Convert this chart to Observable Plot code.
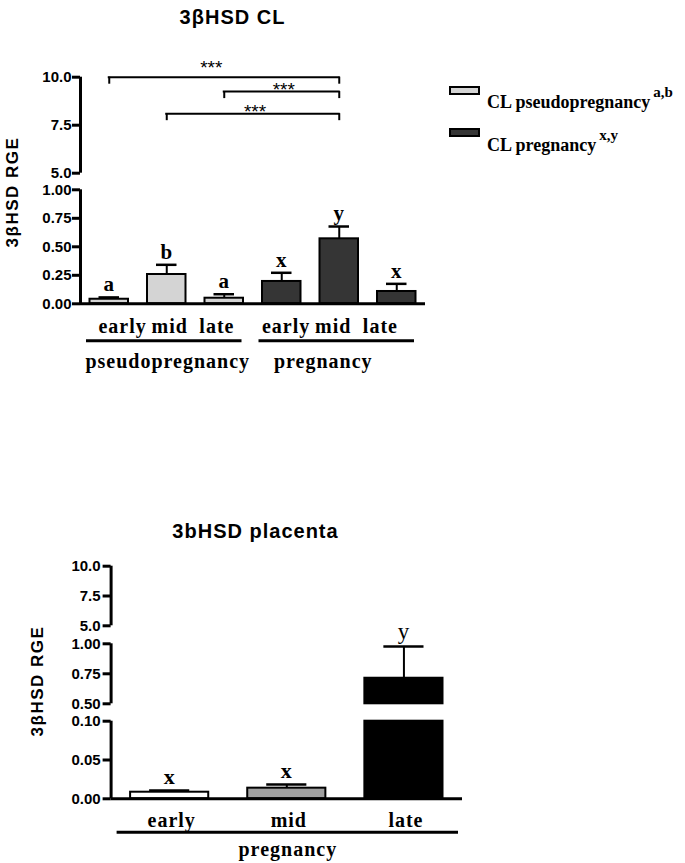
<!DOCTYPE html>
<html><head><meta charset="utf-8">
<script src="https://cdn.jsdelivr.net/npm/d3@7"></script>
<script src="https://cdn.jsdelivr.net/npm/@observablehq/plot@0.6"></script>
<style>
body{margin:0;background:#fff}
#wrap{position:relative;width:685px;height:863px;background:#fff;overflow:hidden}
.abs{position:absolute;white-space:nowrap;line-height:1}
.title{font:bold 20px "Liberation Sans",Arial,sans-serif;letter-spacing:1px;transform:translate(-50%,-50%)}
.ylab{font:bold 17px "Liberation Sans",Arial,sans-serif;letter-spacing:1.5px;transform:translate(-50%,-50%) rotate(-90deg)}
.leg{font:bold 18px "Liberation Serif","Times New Roman",serif;color:#000}
.leg .sup{font-size:15px;position:relative;margin-left:3px}
.sw{border:2px solid #000;width:27px;height:5px}
svg{overflow:visible}
svg g[font-family*="Serif"]{letter-spacing:1px}
</style></head><body><div id="wrap"></div>
<script>
// ---------- data: 3βHSD CL ----------
const clStages = ["early", "mid", "late", "early", "mid", "late"];
const clGroups = ["pseudopregnancy", "pregnancy"];
const clGroupOf = [0, 0, 0, 1, 1, 1];
const clMeans = [0.040, 0.257, 0.049, 0.196, 0.570, 0.108];
const clErrors = [0.016, 0.085, 0.035, 0.076, 0.108, 0.067];
const clLetters = ["a", "b", "a", "x", "y", "x"];
const clTicks = [0, 0.25, 0.5, 0.75, 1, 5, 7.5, 10];
const clSegments = [[0, 1], [5, 10]];
const bracketFrom = [0, 2, 1];
const bracketTo = [4, 4, 4];
const bracketLevel = [10.0, 9.25, 8.1];
const bracketLabel = ["***", "***", "***"];
const legendLabels = ["CL pseudopregnancy", "CL pregnancy"];
const legendSup = ["a,b", "x,y"];

// ---------- data: 3bHSD placenta ----------
const plStages = ["early", "mid", "late"];
const plGroups = ["pregnancy"];
const plMeans = [0.0085, 0.0137, 0.713];
const plErrors = [0.0022, 0.0047, 0.265];
const plLetters = ["x", "x", "y"];
const plTicks = [0, 0.05, 0.1, 0.5, 0.75, 1, 5, 7.5, 10];
const plSegments = [[0, 0.1], [0.5, 1], [5, 10]];

// ---------- styles ----------
const clFills = ["#d4d4d4", "#353535"];
const plFills = ["#ffffff", "#a0a0a0", "#000000"];
const SANS = "Liberation Sans";
const SERIF = "Liberation Serif";
const fmt = d => d >= 5 ? d.toFixed(1) : d.toFixed(2);

const wrap = document.getElementById("wrap");
function place(el, left, topPx) { el.style.position = "absolute"; el.style.left = left + "px"; el.style.top = topPx + "px"; wrap.appendChild(el); }
function div(cls, html, left, topPx) { const d = document.createElement("div"); d.className = "abs " + cls; d.innerHTML = html; place(d, left, topPx); return d; }

function buildRows(stages, groupOf, means, errors, letters, fills) {
  const count = {};
  return stages.map((s, i) => {
    const g = groupOf[i];
    count[g] = (count[g] || 0);
    const j = count[g]++;
    return {i, stage: s, g, j, mean: means[i], err: errors[i], top: means[i] + errors[i], letter: letters[i], fill: fills[i]};
  });
}
function buildPieces(rows, segments) {
  const out = [];
  for (const r of rows) for (const [lo, hi] of segments) if (r.mean > lo) out.push({i: r.i, fill: r.fill, y1: lo, y2: Math.min(r.mean, hi)});
  return out;
}

const clRows = buildRows(clStages, clGroupOf, clMeans, clErrors, clLetters, clGroupOf.map(g => clFills[g]));
const clPieces = buildPieces(clRows, clSegments);
const clGroupRows = clGroups.map((name, g) => ({g, name, n: clGroupOf.filter(x => x === g).length, start: clGroupOf.indexOf(g)}));
const brackets = bracketFrom.map((f, k) => ({k, from: f, to: bracketTo[k], level: bracketLevel[k], label: bracketLabel[k]}));

const plGroupOf = plStages.map(() => 0);
const plRows = buildRows(plStages, plGroupOf, plMeans, plErrors, plLetters, plFills);
const plPieces = buildPieces(plRows, plSegments);
const plGroupRows = plGroups.map((name, g) => ({g, name, n: plStages.length, start: 0}));

const serifText = {fontFamily: SERIF, fontWeight: "bold", fill: "#000"};
const starText = {text: "label", fontSize: 19, fontFamily: SANS, fill: "#000"};

// ---------- top panel ----------
const topPanel = Plot.plot({
  width: 685, height: 380, marginLeft: 80, marginRight: 260, marginTop: 0, marginBottom: 0,
  style: {background: "transparent", overflow: "visible"},
  x: {type: "linear", domain: [0, clStages.length], axis: null},
  y: {type: "linear", domain: [0, 1, 5, 10], range: [303.3, 189.3, 172.7, 76.7]},
  color: {type: "identity"},
  marks: [
    Plot.ruleX(clSegments, {x: () => 0, y1: d => d[0], y2: d => d[1], stroke: "#000", strokeWidth: 3}),
    Plot.axisY({ticks: clTicks, tickFormat: fmt, tickSize: 8, tickPadding: 1, strokeWidth: 3, fontSize: 15, fontWeight: "bold", fontFamily: SANS, fill: "#000", stroke: "#000", label: null}),
    Plot.ruleX(clRows, {x: d => d.i + 0.5, y1: "mean", y2: "top", stroke: "#000", strokeWidth: 2}),
    Plot.ruleY(clRows, {y: "top", x1: "i", x2: d => d.i + 1, insetLeft: 18.5, insetRight: 18.5, stroke: "#000", strokeWidth: 2.5}),
    Plot.rect(clPieces, {x1: "i", x2: d => d.i + 1, y1: "y1", y2: "y2", fill: "fill", stroke: "#000", strokeWidth: 2, insetLeft: 9.5, insetRight: 9.5}),
    Plot.ruleY([0], {stroke: "#000", strokeWidth: 3}),
    Plot.text(clRows, {x: d => d.i + 0.5, y: "top", text: "letter", dy: -13, fontSize: 21, ...serifText}),
    Plot.ruleY(brackets, {y: "level", x1: d => d.from + 0.5, x2: d => d.to + 0.5, stroke: "#000", strokeWidth: 2, strokeLinecap: "square"}),
    Plot.ruleX(brackets, {x: d => d.from + 0.5, y1: "level", y2: "level", insetBottom: -7, stroke: "#000", strokeWidth: 2}),
    Plot.ruleX(brackets, {x: d => d.to + 0.5, y1: "level", y2: "level", insetBottom: -7, stroke: "#000", strokeWidth: 2}),
    Plot.text(brackets.filter(d => d.k === 0), {x: d => (d.from + d.to) / 2 + 0.5, y: "level", dy: -9, dx: -13, ...starText}),
    Plot.text(brackets.filter(d => d.k > 0), {x: d => (d.from + d.to) / 2 + 0.5, y: "level", dy: -2, dx: 2, ...starText}),
    Plot.text(clRows.filter(d => d.g === 0), {x: d => d.g * 3 + 1.5 + (d.j - 1) * 0.82, y: () => 0, text: "stage", dy: 23, dx: 3, fontSize: 20, ...serifText}),
    Plot.text(clRows.filter(d => d.g === 1), {x: d => d.g * 3 + 1.5 + (d.j - 1) * 0.82, y: () => 0, text: "stage", dy: 23, dx: -6, fontSize: 20, ...serifText}),
    Plot.ruleY(clGroupRows, {y: () => 0, x1: "start", x2: d => d.start + d.n, dy: 37, insetLeft: 6, insetRight: 11, stroke: "#000", strokeWidth: 3}),
    Plot.text(clGroupRows.filter(d => d.g === 0), {x: d => d.start + d.n / 2, y: () => 0, text: "name", dy: 58, dx: 1, fontSize: 20, ...serifText}),
    Plot.text(clGroupRows.filter(d => d.g === 1), {x: d => d.start + d.n / 2, y: () => 0, text: "name", dy: 58, dx: -16, fontSize: 20, ...serifText})
  ]
});
place(topPanel, 0, 0);

// ---------- bottom panel ----------
const bottomPanel = Plot.plot({
  width: 685, height: 363, marginLeft: 110.6, marginRight: 223, marginTop: 0, marginBottom: 0,
  style: {background: "transparent", overflow: "visible"},
  x: {type: "linear", domain: [0, plStages.length], axis: null},
  y: {type: "linear", domain: [0, 0.1, 0.5, 1, 5, 10], range: [298.3, 220.7, 203.3, 143.3, 125.3, 65.7]},
  color: {type: "identity"},
  marks: [
    Plot.ruleX(plSegments, {x: () => 0, y1: d => d[0], y2: d => d[1], stroke: "#000", strokeWidth: 3}),
    Plot.axisY({ticks: plTicks, tickFormat: fmt, tickSize: 8, tickPadding: 2.5, strokeWidth: 3, fontSize: 15, fontWeight: "bold", fontFamily: SANS, fill: "#000", stroke: "#000", label: null}),
    Plot.ruleX(plRows, {x: d => d.i + 0.5, y1: "mean", y2: "top", stroke: "#000", strokeWidth: 2}),
    Plot.ruleY(plRows, {y: "top", x1: "i", x2: d => d.i + 1, insetLeft: 38.5, insetRight: 38.5, stroke: "#000", strokeWidth: 2.5}),
    Plot.rect(plPieces, {x1: "i", x2: d => d.i + 1, y1: "y1", y2: "y2", fill: "fill", stroke: "#000", strokeWidth: 2, insetLeft: 19.5, insetRight: 19.5}),
    Plot.ruleY([0], {stroke: "#000", strokeWidth: 3}),
    Plot.text(plRows.filter(d => d.letter !== "y"), {x: d => d.i + 0.5, y: "top", text: "letter", dy: -14, fontSize: 22, ...serifText}),
    Plot.text(plRows.filter(d => d.letter === "y"), {x: d => d.i + 0.5, y: "top", text: "letter", dy: -15, fontSize: 23, fontFamily: SERIF, fill: "#000"}),
    Plot.text(plRows, {x: d => d.i + 0.5, y: () => 0, text: "stage", dy: 22, dx: 2, fontSize: 20, ...serifText}),
    Plot.ruleY(plGroupRows, {y: () => 0, x1: "start", x2: d => d.start + d.n, dy: 33.4, insetLeft: 6, insetRight: 4, stroke: "#000", strokeWidth: 3}),
    Plot.text(plGroupRows, {x: d => d.start + d.n / 2, y: () => 0, text: "name", dy: 51, dx: 1, fontSize: 20, ...serifText})
  ]
});
place(bottomPanel, 0, 500);

// ---------- titles, axis labels, legend ----------
div("title", "3βHSD CL", 232.5, 17);
div("title", "3bHSD placenta", 255.5, 530.5);
div("ylab", "3βHSD RGE", 13, 192);
div("ylab", "3βHSD RGE", 38, 681);

const legTops = [86, 127.7];
legendLabels.forEach((lab, k) => {
  const sw = document.createElement("div");
  sw.className = "abs sw";
  sw.style.background = clFills[k];
  place(sw, 449, legTops[k]);
  div("leg", `${lab}<span class="sup" style="top:-11px">${legendSup[k]}</span>`, 487, [92, 135][k]);
});
</script></body></html>
